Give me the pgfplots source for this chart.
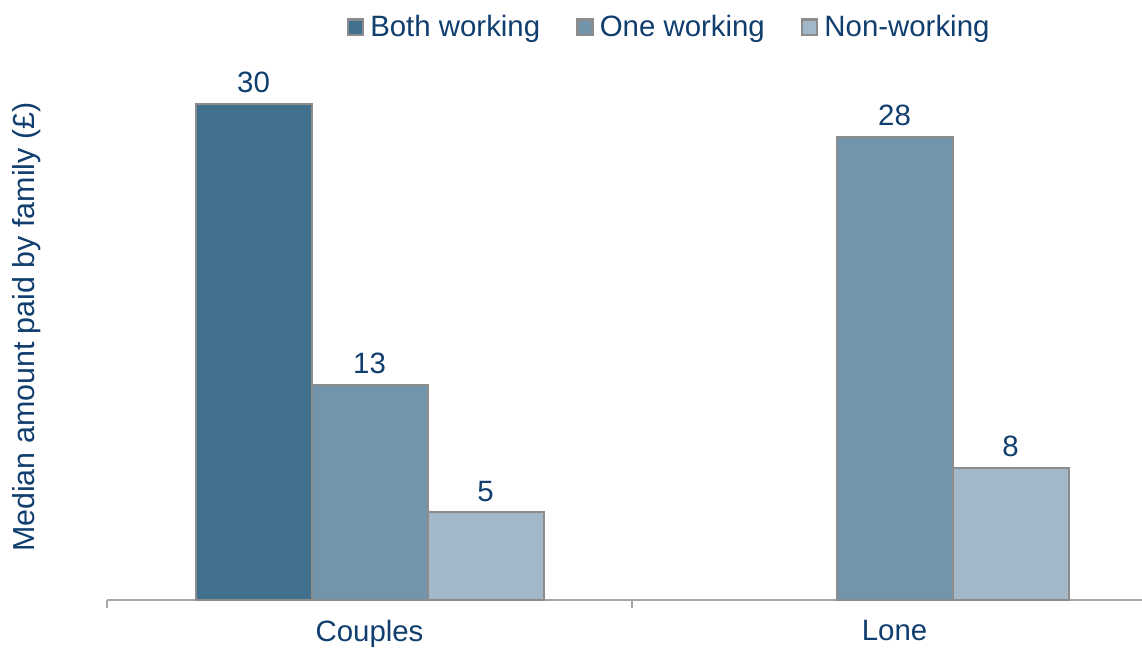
\documentclass[border=0pt]{standalone}
\usepackage{pgfplots}
\pgfplotsset{compat=1.18}
\usepackage{fontspec}
\setmainfont{Liberation Sans}
\definecolor{txt}{RGB}{16,62,110}
\definecolor{cA}{RGB}{65,113,143}
\definecolor{cB}{RGB}{114,149,173}
\definecolor{cC}{RGB}{162,184,200}
\definecolor{edge}{RGB}{140,140,140}
\definecolor{axl}{RGB}{166,166,166}
\begin{document}
\begin{tikzpicture}
\begin{axis}[
  scale only axis, width=518.5pt, height=272.75pt,
  ymin=0, ymax=33, xmin=-0.5, xmax=1.475,
  ybar=0pt, bar width=58pt, clip=false,
  axis lines=left,
  y axis line style={draw=none},
  x axis line style={draw=axl, line width=0.6pt, -},
  ytick=\empty,
  xtick={0,1}, xticklabels={Couples,Lone},
  major tick length=0pt,
  extra x ticks={-0.5,0.5}, extra x tick labels={},
  extra x tick style={major tick length=4pt, tick align=outside, tick style={draw=axl, line width=0.6pt}},
  xticklabel style={text=txt, font=\fontsize{14.7}{17}\selectfont, yshift=-6.8pt},
  ylabel={Median amount paid by family (£)},
  ylabel style={text=txt, font=\fontsize{15.2}{17}\selectfont, at={(axis description cs:-0.0773,0.5)}, anchor=center},
  /pgf/number format/assume math mode=true,
  nodes near coords={\pgfmathprintnumber[fixed,precision=0]{\pgfplotspointmeta}},
  nodes near coords style={text=txt, font=\fontsize{14.7}{17}\selectfont, inner sep=5pt},
  legend columns=3,
  legend style={draw=none, at={(axis description cs:0.543,1.05)}, anchor=center,
    font=\fontsize{14.7}{17}\selectfont, text=txt,
    /tikz/every even column/.append style={column sep=16pt},
    /tikz/every odd column/.append style={column sep=1pt}},
  legend image code/.code={\draw[#1, draw=edge, line width=1.2pt] (0pt,-3.8pt) rectangle (7.6pt,3.8pt);},
]
\addplot[fill=cA, draw=edge, line width=1pt] coordinates {(0,30)};
\addplot[fill=cB, draw=edge, line width=1pt] coordinates {(0,13) (1,28)};
\addplot[fill=cC, draw=edge, line width=1pt] coordinates {(0,5.3) (1,8)};
\legend{Both working, One working, Non-working}
\coordinate (sw) at (rel axis cs:0,0);
\end{axis}
\pgfresetboundingbox
\path (sw) ++(-53.5pt,-24pt) rectangle ++(571pt,324pt);
\end{tikzpicture}
\end{document}
